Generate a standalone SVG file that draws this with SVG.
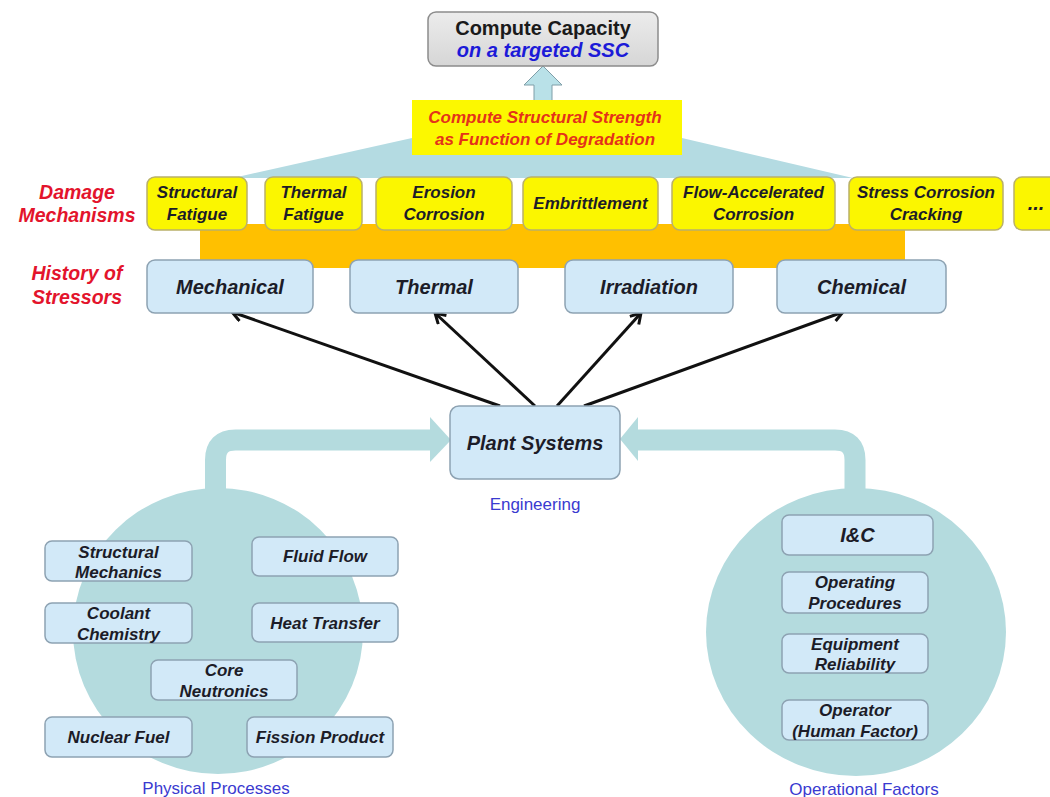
<svg xmlns="http://www.w3.org/2000/svg" width="1050" height="797" viewBox="0 0 1050 797">
  <defs>
    <style>
      .t { font-family: "Liberation Sans", Arial, sans-serif; font-weight: bold; font-style: italic; text-anchor: middle; }
      .box { fill: #d2e9f8; stroke: #8da2b2; stroke-width: 1.5; }
      .ybox { fill: #fbf600; stroke: #b9b06a; stroke-width: 1.5; }
      .dark { fill: #1c1c28; }
      .red { fill: #e3142c; font-size: 19.5px; }
      .blue { font-family: "Liberation Sans", Arial, sans-serif; fill: #3a3ad0; font-size: 17px; text-anchor: middle; }
      .s17 { font-size: 17px; }
      .s20 { font-size: 20px; }
      .band { fill: none; stroke: #b4dbde; stroke-width: 21; }
      .bandhead { fill: #b4dbde; }
      .arrow { stroke: #111; stroke-width: 3; fill: none; marker-end: url(#chev); }
    </style>
    <marker id="chev" markerUnits="userSpaceOnUse" markerWidth="18" markerHeight="18" refX="12" refY="7" orient="auto">
      <path d="M2,1 L12,7 L2,13" fill="none" stroke="#111" stroke-width="3" stroke-linejoin="miter"/>
    </marker>
    <linearGradient id="gray" x1="0" y1="0" x2="0" y2="1">
      <stop offset="0" stop-color="#ececec"/>
      <stop offset="1" stop-color="#d6d6d6"/>
    </linearGradient>
  </defs>

  <rect width="1050" height="797" fill="#ffffff"/>

  <!-- background shapes -->
  <polygon id="roof" points="233,178 412,138 682,138 853,178" fill="#b4dbe2"/>
  <rect id="orange-band" x="200" y="224" width="705" height="44" fill="#ffc000"/>
  <ellipse id="physical-circle" cx="218" cy="631" rx="145" ry="143" fill="#b4dbde"/>
  <ellipse id="operational-circle" cx="856" cy="632" rx="150" ry="144" fill="#b4dbde"/>

  <!-- connectors -->
  <g id="connectors">
    <polygon id="up-arrow" points="534,101 534,85 524,85 543,66 562,85 552,85 552,101" fill="#b9e1e8" stroke="#7f9ea8" stroke-width="1"/>
    <path class="band" d="M215.5,500 V460 Q215.5,440 235.5,440 H432"/>
    <polygon class="bandhead" points="430,417 451,440 430,462"/>
    <path class="band" d="M855,500 V460 Q855,440 835,440 H636"/>
    <polygon class="bandhead" points="638,417 620,439 638,461"/>
    <line class="arrow" x1="500" y1="406" x2="232" y2="312"/>
    <line class="arrow" x1="535" y1="406" x2="435" y2="313"/>
    <line class="arrow" x1="557" y1="406" x2="641" y2="313"/>
    <line class="arrow" x1="584" y1="406" x2="843" y2="312"/>
  </g>

  <!-- top -->
  <g id="compute-capacity">
    <rect x="428" y="12" width="230" height="54" rx="8" fill="url(#gray)" stroke="#8c8c8c" stroke-width="1.5"/>
    <text x="543" y="35" font-family="Liberation Sans, Arial, sans-serif" font-weight="bold" font-size="20" text-anchor="middle" fill="#1a1a1a">Compute Capacity</text>
    <text class="t" x="543" y="57" font-size="20" fill="#1c1ad8">on a targeted SSC</text>
  </g>
  <g id="structural-strength">
    <rect x="412" y="100" width="270" height="55" fill="#fcf800"/>
    <text class="t" x="545" y="123" font-size="17" fill="#e4321a">Compute Structural Strength</text>
    <text class="t" x="545" y="145" font-size="17" fill="#e4321a">as Function of Degradation</text>
  </g>

  <!-- row labels -->
  <g id="label-damage">
    <text class="t red" x="77" y="199">Damage</text>
    <text class="t red" x="77" y="222">Mechanisms</text>
  </g>
  <g id="label-stressors">
    <text class="t red" x="77" y="280">History of</text>
    <text class="t red" x="77" y="304">Stressors</text>
  </g>

  <!-- damage mechanisms -->
  <g id="structural-fatigue">
    <rect class="ybox" x="147" y="177" width="100" height="53" rx="8"/>
    <text class="t dark s17" x="197" y="198">Structural</text>
    <text class="t dark s17" x="197" y="220">Fatigue</text>
  </g>
  <g id="thermal-fatigue">
    <rect class="ybox" x="265" y="177" width="97" height="53" rx="8"/>
    <text class="t dark s17" x="313.5" y="198">Thermal</text>
    <text class="t dark s17" x="313.5" y="220">Fatigue</text>
  </g>
  <g id="erosion-corrosion">
    <rect class="ybox" x="376" y="177" width="136" height="53" rx="8"/>
    <text class="t dark s17" x="444" y="198">Erosion</text>
    <text class="t dark s17" x="444" y="220">Corrosion</text>
  </g>
  <g id="embrittlement">
    <rect class="ybox" x="523" y="177" width="135" height="53" rx="8"/>
    <text class="t dark s17" x="590.5" y="209">Embrittlement</text>
  </g>
  <g id="flow-accelerated-corrosion">
    <rect class="ybox" x="672" y="177" width="163" height="53" rx="8"/>
    <text class="t dark s17" x="753.5" y="198">Flow-Accelerated</text>
    <text class="t dark s17" x="753.5" y="220">Corrosion</text>
  </g>
  <g id="stress-corrosion-cracking">
    <rect class="ybox" x="849" y="177" width="154" height="53" rx="8"/>
    <text class="t dark s17" x="926" y="198">Stress Corrosion</text>
    <text class="t dark s17" x="926" y="220">Cracking</text>
  </g>
  <g id="more">
    <rect class="ybox" x="1014" y="177" width="60" height="53" rx="8"/>
    <text class="t dark s20" x="1036" y="210">...</text>
  </g>

  <!-- stressors -->
  <g id="mechanical">
    <rect class="box" x="147" y="260" width="166" height="53" rx="8"/>
    <text class="t dark s20" x="230" y="294">Mechanical</text>
  </g>
  <g id="thermal">
    <rect class="box" x="350" y="260" width="168" height="53" rx="8"/>
    <text class="t dark s20" x="434" y="294">Thermal</text>
  </g>
  <g id="irradiation">
    <rect class="box" x="565" y="260" width="168" height="53" rx="8"/>
    <text class="t dark s20" x="649" y="294">Irradiation</text>
  </g>
  <g id="chemical">
    <rect class="box" x="777" y="260" width="169" height="53" rx="8"/>
    <text class="t dark s20" x="861.5" y="294">Chemical</text>
  </g>

  <!-- plant systems -->
  <g id="plant-systems">
    <rect class="box" x="450" y="406" width="170" height="73" rx="9"/>
    <text class="t dark s20" x="535" y="450">Plant Systems</text>
    <text class="blue" x="535" y="510">Engineering</text>
  </g>

  <!-- physical processes -->
  <g id="structural-mechanics">
    <rect class="box" x="45" y="541" width="147" height="40" rx="7"/>
    <text class="t dark s17" x="118.5" y="558">Structural</text>
    <text class="t dark s17" x="118.5" y="578">Mechanics</text>
  </g>
  <g id="fluid-flow">
    <rect class="box" x="252" y="537" width="146" height="39" rx="7"/>
    <text class="t dark s17" x="325" y="562">Fluid Flow</text>
  </g>
  <g id="coolant-chemistry">
    <rect class="box" x="45" y="603" width="147" height="40" rx="7"/>
    <text class="t dark s17" x="118.5" y="619">Coolant</text>
    <text class="t dark s17" x="118.5" y="640">Chemistry</text>
  </g>
  <g id="heat-transfer">
    <rect class="box" x="252" y="603" width="146" height="39" rx="7"/>
    <text class="t dark s17" x="325" y="629">Heat Transfer</text>
  </g>
  <g id="core-neutronics">
    <rect class="box" x="151" y="660" width="146" height="40" rx="7"/>
    <text class="t dark s17" x="224" y="676">Core</text>
    <text class="t dark s17" x="224" y="697">Neutronics</text>
  </g>
  <g id="nuclear-fuel">
    <rect class="box" x="45" y="717" width="147" height="40" rx="7"/>
    <text class="t dark s17" x="118.5" y="743">Nuclear Fuel</text>
  </g>
  <g id="fission-product">
    <rect class="box" x="247" y="717" width="146" height="40" rx="7"/>
    <text class="t dark s17" x="320" y="743">Fission Product</text>
  </g>
  <text class="blue" x="216" y="794">Physical Processes</text>

  <!-- operational factors -->
  <g id="i-and-c">
    <rect class="box" x="782" y="515" width="151" height="40" rx="7"/>
    <text class="t dark s20" x="857.5" y="542">I&amp;C</text>
  </g>
  <g id="operating-procedures">
    <rect class="box" x="782" y="572" width="146" height="41" rx="7"/>
    <text class="t dark s17" x="855" y="588">Operating</text>
    <text class="t dark s17" x="855" y="609">Procedures</text>
  </g>
  <g id="equipment-reliability">
    <rect class="box" x="782" y="634" width="146" height="39" rx="7"/>
    <text class="t dark s17" x="855" y="650">Equipment</text>
    <text class="t dark s17" x="855" y="670">Reliability</text>
  </g>
  <g id="operator">
    <rect class="box" x="782" y="700" width="146" height="40" rx="7"/>
    <text class="t dark s17" x="855" y="716">Operator</text>
    <text class="t dark s17" x="855" y="737">(Human Factor)</text>
  </g>
  <text class="blue" x="864" y="795">Operational Factors</text>
</svg>
